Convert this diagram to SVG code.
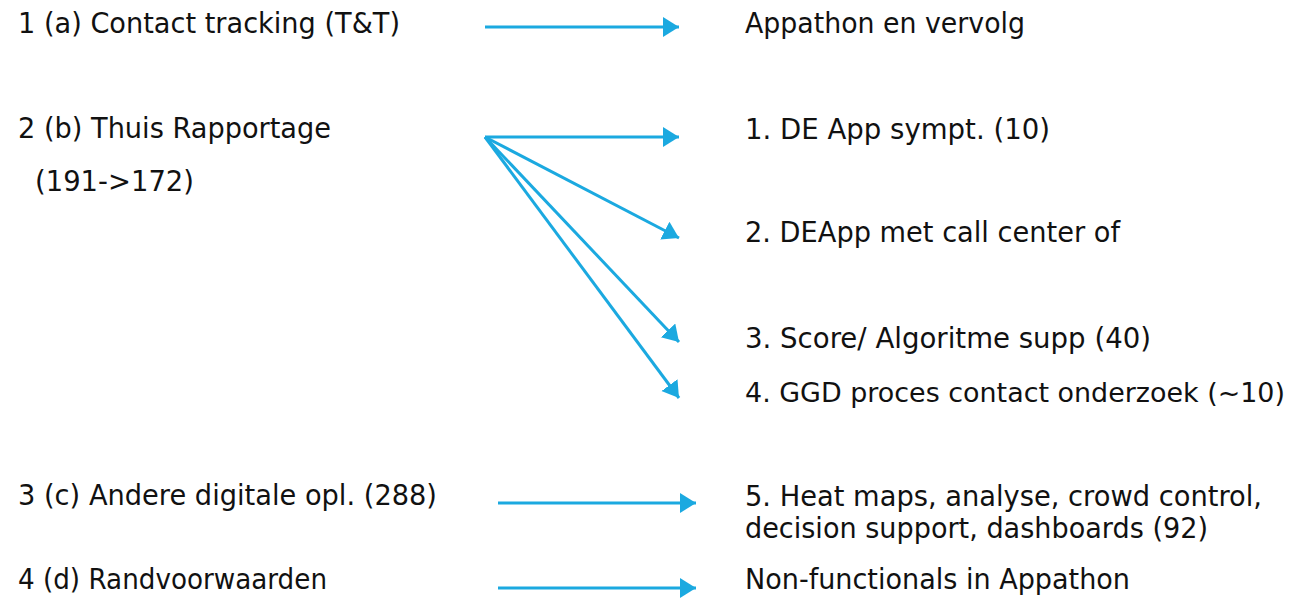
<svg xmlns="http://www.w3.org/2000/svg" width="1296" height="599" viewBox="0 0 1296 599">
<style>
.l{font-family:"DejaVu Sans","Liberation Sans",sans-serif;font-size:27.5px;fill:#111}
.r{font-family:"DejaVu Sans","Liberation Sans",sans-serif;font-size:28px;fill:#111}
.c{stroke:#1ba9e0;stroke-width:3;fill:none;marker-end:url(#ah)}
</style>
<defs>
<marker id="ah" markerUnits="userSpaceOnUse" markerWidth="18" markerHeight="22" refX="16" refY="10" orient="auto">
<path d="M0,0 L16,10 L0,20 z" fill="#1ba9e0"/>
</marker>
</defs>
<rect width="1296" height="599" fill="#fff"/>
<g id="src1"><text class="l" x="18" y="33" textLength="382" lengthAdjust="spacingAndGlyphs">1 (a) Contact tracking (T&amp;T)</text></g>
<g id="src2"><text class="l" x="18" y="138" textLength="313" lengthAdjust="spacingAndGlyphs">2 (b) Thuis Rapportage</text>
<text class="l" x="35" y="191" textLength="159" lengthAdjust="spacingAndGlyphs">(191-&gt;172)</text></g>
<g id="src3"><text class="l" x="18" y="505" textLength="419" lengthAdjust="spacingAndGlyphs">3 (c) Andere digitale opl. (288)</text></g>
<g id="src4"><text class="l" x="18" y="589" textLength="309" lengthAdjust="spacingAndGlyphs">4 (d) Randvoorwaarden</text></g>
<g id="t1"><text class="r" x="745" y="33" textLength="280" lengthAdjust="spacingAndGlyphs">Appathon en vervolg</text></g>
<g id="t2"><text class="r" x="745" y="139" textLength="305" lengthAdjust="spacingAndGlyphs">1. DE App sympt. (10)</text></g>
<g id="t3"><text class="r" x="745" y="242" textLength="375" lengthAdjust="spacingAndGlyphs">2. DEApp met call center of</text></g>
<g id="t4"><text class="r" x="745" y="348" textLength="406" lengthAdjust="spacingAndGlyphs">3. Score/ Algoritme supp (40)</text></g>
<g id="t5"><text class="r" x="745" y="402" style="font-size:26px" textLength="540" lengthAdjust="spacingAndGlyphs">4. GGD proces contact onderzoek (~10)</text></g>
<g id="t6"><text class="r" x="745" y="506" textLength="517" lengthAdjust="spacingAndGlyphs">5. Heat maps, analyse, crowd control,</text>
<text class="r" x="745" y="538" textLength="463" lengthAdjust="spacingAndGlyphs">decision support, dashboards (92)</text></g>
<g id="t7"><text class="r" x="745" y="589" textLength="385" lengthAdjust="spacingAndGlyphs">Non-functionals in Appathon</text></g>
<g id="connectors">
<line class="c" x1="485" y1="27" x2="679" y2="27"/>
<line class="c" x1="485" y1="137" x2="679" y2="137"/>
<line class="c" x1="485" y1="137" x2="679" y2="238"/>
<line class="c" x1="485" y1="137" x2="679" y2="342"/>
<line class="c" x1="485" y1="137" x2="679" y2="398"/>
<line class="c" x1="498" y1="503" x2="696" y2="503"/>
<line class="c" x1="498" y1="588" x2="696" y2="588"/>
</g>
</svg>
